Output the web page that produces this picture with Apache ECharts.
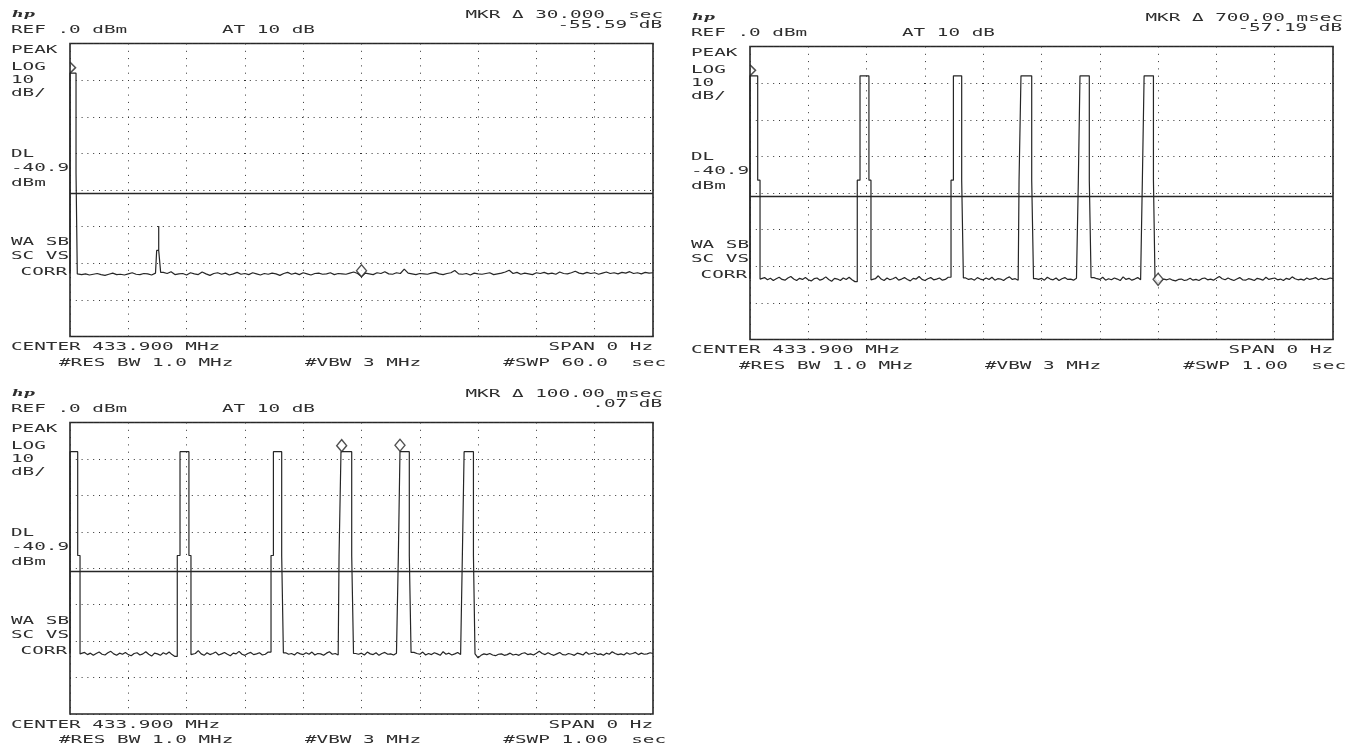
<!DOCTYPE html>
<html><head><meta charset="utf-8">
<script src="https://cdn.jsdelivr.net/npm/echarts@6.0.0/dist/echarts.min.js"></script>
<style>html,body{margin:0;padding:0;background:#fff}#c{width:1362px;height:750px}</style>
</head><body><div id="c"></div>
<script>
// ---------- DATA ----------
// Panel 1 : 60 s sweep, noise samples every 0.4 s (dBm)
const p1NoiseStep = 0.4;
const p1Noise = [
-62.8,-62.8,-62.9,-63.1,-62.9,-63.2,-63.0,-62.8,-63.1,-63.3,
-63.0,-62.7,-63.1,-63.0,-63.2,-62.9,-62.6,-63.0,-63.1,-62.8,
-62.9,-63.2,-62.7,-63.0,-62.5,-62.8,-62.3,-63.1,-62.9,-62.8,
-63.2,-62.6,-62.9,-63.1,-62.4,-62.9,-63.3,-62.8,-62.6,-63.0,
-62.7,-63.2,-62.9,-62.5,-63.0,-62.8,-63.1,-62.6,-62.9,-63.2,
-62.8,-63.0,-62.7,-62.9,-63.3,-62.8,-62.5,-63.0,-62.7,-63.1,
-62.6,-62.9,-63.2,-62.8,-62.7,-63.0,-62.9,-62.6,-63.1,-62.8,
-62.9,-63.0,-62.7,-62.4,-62.8,-63.6,-62.7,-62.9,-63.1,-62.6,
-62.8,-62.3,-62.9,-63.0,-62.6,-62.8,-61.6,-62.7,-62.9,-63.1,
-62.8,-62.9,-63.0,-62.7,-62.5,-62.9,-63.1,-62.8,-62.6,-62.0,
-62.9,-63.0,-62.8,-63.2,-62.7,-62.9,-63.0,-62.8,-62.6,-63.1,
-62.9,-62.7,-62.4,-61.9,-62.8,-62.5,-63.0,-62.7,-62.9,-63.1,
-62.6,-62.8,-62.5,-62.9,-62.7,-63.0,-62.4,-62.8,-62.9,-62.6,
-62.2,-62.7,-62.9,-62.5,-62.8,-62.6,-63.0,-62.7,-62.4,-62.8,
-62.6,-62.9,-62.5,-62.7,-62.3,-62.8,-62.6,-62.9,-62.5,-62.7,
-62.6
];
// Panel 1 bursts: [rise low, rise high, fall high, fall low] in s
const p1RiseLow  = [0,    8.92];
const p1RiseHigh = [0,    9.13];
const p1FallHigh = [0.62, 9.13];
const p1FallLow  = [0.75, 9.33];
const p1Top      = [-8.1, -49.8];
const p1Shoulder = [-35.3, -56.5];
const p1MarkerTime  = [0, 30];
const p1MarkerLevel = [-8.1, -63.7];

// Panels 2 & 3 : 1 s sweep (same trace), noise every 5 ms
const burstNoiseStep = 5;
const burstNoise = [
-63.4,-63.6,-63.2,-63.8,-63.5,-63.1,-63.7,-63.3,-63.9,-63.4,
-63.0,-63.6,-63.8,-63.2,-62.8,-63.5,-63.9,-63.3,-63.6,-63.1,
-63.7,-64.0,-63.4,-63.2,-63.8,-63.5,-62.9,-63.6,-64.1,-63.3,
-63.5,-63.9,-63.2,-63.6,-63.0,-63.7,-64.2,-63.4,-63.8,-63.1,
-63.5,-63.3,-63.7,-63.4,-62.6,-63.5,-63.9,-63.2,-63.7,-63.4,
-63.0,-63.8,-63.5,-63.1,-63.6,-64.0,-63.3,-63.5,-62.8,-63.6,
-63.9,-63.4,-63.1,-63.7,-63.5,-63.2,-63.8,-63.6,-63.0,-63.4,
-63.5,-63.7,-63.3,-63.9,-63.2,-63.6,-63.4,-63.8,-63.1,-63.5,
-63.7,-63.2,-63.6,-63.0,-63.8,-63.4,-63.5,-63.9,-63.3,-62.9,
-63.6,-63.4,-63.8,-63.5,-63.2,-63.7,-63.1,-63.9,-63.4,-63.6,
-63.3,-63.8,-63.0,-63.5,-63.7,-63.2,-63.9,-63.4,-63.1,-63.6,
-63.5,-63.8,-63.3,-63.6,-63.2,-63.9,-63.5,-63.7,-63.1,-63.4,
-63.6,-63.0,-63.8,-63.4,-63.7,-63.2,-63.5,-63.9,-62.9,-63.6,
-63.3,-63.8,-63.5,-63.1,-63.7,-63.4,-64.0,-63.2,-63.6,-63.5,
-64.6,-63.9,-63.5,-63.7,-63.4,-63.8,-64.0,-63.6,-63.5,-63.9,
-63.7,-63.3,-63.8,-63.6,-63.9,-63.4,-63.2,-63.7,-63.5,-63.8,
-63.3,-62.8,-63.4,-63.7,-63.2,-63.6,-63.9,-63.5,-63.1,-63.7,
-63.8,-63.4,-63.6,-63.9,-63.3,-63.5,-63.8,-63.0,-63.6,-63.4,
-63.2,-63.7,-63.5,-63.9,-63.3,-63.6,-62.9,-63.4,-63.7,-63.5,
-63.8,-63.2,-63.6,-63.4,-63.1,-63.7,-63.3,-63.6,-63.5,-63.2,
-63.4
];
// bursts in ms
const burstRiseLow  = [0,    184,   344.8, 461.5, 563.2, 673];
const burstRiseHigh = [0,    188.7, 348.9, 464.8, 566,   676];
const burstFallHigh = [13.2, 204,   363.1, 483.2, 582,   692];
const burstFallLow  = [17.2, 207.5, 366,   486.3, 585,   694.7];
const burstTop      = [-8.0, -8.0,  -8.0,  -8.0,  -8.0,  -8.0];
const burstShoulder = [-36.5,-36.5, -36.5, -36.5, -36.5, -36.5];
const p2MarkerTime  = [0, 700];
const p2MarkerLevel = [-8.0, -65.2];
const p3MarkerTime  = [466, 566];
const p3MarkerLevel = [-8.0, -7.9];

const displayLine = -40.9;

// annotation texts
const sideLabels = ['PEAK','LOG','10','dB/','DL','-40.9','dBm','WA SB','SC VS'];
const corrLabel = 'CORR';
const refLabel = 'REF .0 dBm';
const atLabel = 'AT 10 dB';
const logoLabel = 'hp';
const p1Mkr = ['MKR Δ 30.000  sec', '-55.59 dB'];
const p2Mkr = ['MKR Δ 700.00 msec', '-57.19 dB'];
const p3Mkr = ['MKR Δ 100.00 msec', '.07 dB'];
const centerLabel = 'CENTER 433.900 MHz';
const rbwLabel = '#RES BW 1.0 MHz';
const vbwLabel = '#VBW 3 MHz';
const spanLabel = 'SPAN 0 Hz';
const p1Swp = '#SWP 60.0  sec';
const p23Swp = '#SWP 1.00  sec';

// ---------- BUILD ----------
function buildTrace(noise, step, rl, rh, fh, fl, top, sh) {
  const pts = [];
  let k = 0;
  const inside = t => { for (let j = 0; j < rl.length; j++) if (t >= rl[j] && t <= fl[j]) return true; return false; };
  for (let i = 0; i < noise.length; i++) {
    const t = i * step;
    while (k < rl.length && rl[k] <= t) {
      const pre = pts.length ? pts[pts.length - 1][1] : noise[0];
      let post = noise[noise.length - 1];
      for (let m = 0; m < noise.length; m++) { if (m * step > fl[k]) { post = noise[m]; break; } }
      pts.push([rl[k], pre], [rl[k], sh[k]], [rh[k], sh[k]], [rh[k], top[k]],
               [fh[k], top[k]], [fh[k], sh[k]], [fl[k], sh[k]], [fl[k], post]);
      k++;
    }
    if (!inside(t)) pts.push([t, noise[i]]);
  }
  return pts;
}
const p1Trace = buildTrace(p1Noise, p1NoiseStep, p1RiseLow, p1RiseHigh, p1FallHigh, p1FallLow, p1Top, p1Shoulder);
const burstTrace = buildTrace(burstNoise, burstNoiseStep, burstRiseLow, burstRiseHigh, burstFallHigh, burstFallLow, burstTop, burstShoulder);

const panels = [
  {left: 70,  top: 43.5,  width: 583, height: 293,   xMax: 60,   xInt: 6,   trace: p1Trace,    mt: p1MarkerTime, ml: p1MarkerLevel, mkr: p1Mkr, swp: p1Swp},
  {left: 750, top: 46.5,  width: 583, height: 293,   xMax: 1000, xInt: 100, trace: burstTrace, mt: p2MarkerTime, ml: p2MarkerLevel, mkr: p2Mkr, swp: p23Swp},
  {left: 70,  top: 422.5, width: 583, height: 291.5, xMax: 1000, xInt: 100, trace: burstTrace, mt: p3MarkerTime, ml: p3MarkerLevel, mkr: p3Mkr, swp: p23Swp}
];

const INK = '#262626';
const TXT = '#2e2e2e';
const FONT = '10px "DejaVu Sans Mono"';
const SX = 1.93;
function txt(x, y, s, align) {
  return {type: 'text', x: x, y: y, scaleX: SX, silent: true, z: 10,
    style: {text: s, font: FONT, fill: TXT, align: align, textAlign: align, verticalAlign: 'middle', textVerticalAlign: 'middle'}};
}

const grids = [], xAxes = [], yAxes = [], series = [], graphics = [];
const sideY = [7.4, 24, 37.4, 50.4, 111.4, 124.5, 140, 198.7, 213.4];
panels.forEach((p, i) => {
  grids.push({left: p.left, top: p.top, width: p.width, height: p.height, show: true,
    borderColor: INK, borderWidth: 1.6, backgroundColor: 'transparent', containLabel: false});
  xAxes.push({type: 'value', gridIndex: i, min: 0, max: p.xMax, interval: p.xInt,
    axisLine: {show: false}, axisTick: {show: false}, axisLabel: {show: false},
    splitLine: {show: true, lineStyle: {type: [1, 6.3], color: '#333', width: 1}}});
  yAxes.push({type: 'value', gridIndex: i, min: -80, max: 0, interval: 10,
    axisLine: {show: false}, axisTick: {show: false}, axisLabel: {show: false},
    splitLine: {show: true, lineStyle: {type: [1, 4.8], color: '#333', width: 1}}});
  series.push({type: 'line', xAxisIndex: i, yAxisIndex: i, data: p.trace, symbol: 'none', showSymbol: false,
    lineStyle: {width: 1.2, color: INK}, clip: true, animation: false, z: 3,
    markLine: {silent: true, symbol: 'none', animation: false, label: {show: false},
      lineStyle: {type: 'solid', color: INK, width: 1.4}, data: [{yAxis: displayLine}]}});
  series.push({type: 'scatter', xAxisIndex: i, yAxisIndex: i, animation: false, z: 5, clip: false,
    data: p.mt.map((t, j) => t === 0
      ? {value: [t, p.ml[j]], symbol: 'path://M0,0L5,6L0,12', symbolSize: [5.5, 11], symbolOffset: [2.75, -5.5],
         itemStyle: {color: 'rgba(0,0,0,0)', borderColor: INK, borderWidth: 1.4}}
      : {value: [t, p.ml[j]], symbol: 'diamond', symbolSize: [10, 12], symbolOffset: [0, -6],
         itemStyle: {color: '#fff', borderColor: INK, borderWidth: 1.4}})});
  const L = p.left, T = p.top, B = p.top + p.height;
  graphics.push({type: 'text', x: L - 58, y: T - 29.5, scaleX: 1.6, silent: true,
    style: {text: logoLabel, font: 'italic bold 10px "DejaVu Serif"', fill: TXT, align: 'left', textAlign: 'left', verticalAlign: 'middle', textVerticalAlign: 'middle'}});
  graphics.push(txt(L - 59, T - 13.2, refLabel, 'left'));
  graphics.push(txt(L + 152, T - 13.2, atLabel, 'left'));
  graphics.push(txt(L + 593, T - 28.3, p.mkr[0], 'right'));
  graphics.push(txt(L + 592, T - 18.3, p.mkr[1], 'right'));
  sideLabels.forEach((s, j) => graphics.push(txt(L - 59, T + sideY[j], s, 'left')));
  graphics.push(txt(L - 3, T + 228.7, corrLabel, 'right'));
  graphics.push(txt(L - 59, B + 11.2, centerLabel, 'left'));
  graphics.push(txt(L - 11, B + 26.6, rbwLabel, 'left'));
  graphics.push(txt(L + 235, B + 26.6, vbwLabel, 'left'));
  graphics.push(txt(L + 583, B + 11.2, spanLabel, 'right'));
  graphics.push(txt(L + 596, B + 26.6, p.swp, 'right'));
});

const chart = echarts.init(document.getElementById('c'), null, {renderer: 'canvas'});
chart.setOption({
  backgroundColor: '#fff', animation: false,
  grid: grids, xAxis: xAxes, yAxis: yAxes, series: series,
  graphic: {elements: graphics}
});
</script></body></html>
